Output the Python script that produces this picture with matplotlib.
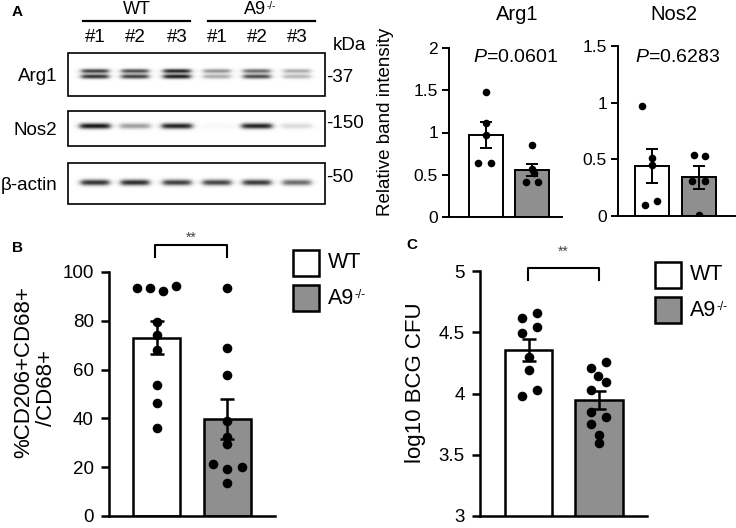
import numpy as np
import matplotlib
matplotlib.use("Agg")
import matplotlib.pyplot as plt
from matplotlib.patches import Rectangle

plt.rcParams['font.family'] = ['Liberation Sans', 'DejaVu Sans']
plt.rcParams['mathtext.fontset'] = 'custom'
plt.rcParams['mathtext.rm'] = 'Liberation Sans'
plt.rcParams['mathtext.it'] = 'Liberation Sans:italic'
plt.rcParams['mathtext.bf'] = 'Liberation Sans:bold'

# ---------------- data ----------------
groups = ["WT", "A9"]
group_sup = ["", "-/-"]
lanes = ["#1", "#2", "#3", "#1", "#2", "#3"]
blot_rows = ["Arg1", "Nos2", "β-actin"]
kda_marks = ["-37", "-150", "-50"]

# band darkness (0-1) per lane
arg1_upper = [0.80, 0.75, 0.92, 0.45, 0.62, 0.35]
arg1_lower = [0.85, 0.80, 0.95, 0.35, 0.75, 0.30]
nos2_band = [0.97, 0.40, 0.92, 0.03, 0.92, 0.15]
actin_band = [0.85, 0.88, 0.80, 0.78, 0.82, 0.62]

# relative band intensity
arg1_wt = [1.48, 1.11, 0.97, 0.64, 0.64]
arg1_ko = [0.85, 0.57, 0.52, 0.42, 0.42]
arg1_mean = [0.97, 0.56]
arg1_sem = [0.15, 0.07]
arg1_p = "$P$=0.0601"

nos2_wt = [0.97, 0.51, 0.45, 0.10, 0.13]
nos2_ko = [0.54, 0.53, 0.31, 0.31, 0.01]
nos2_mean = [0.44, 0.34]
nos2_sem = [0.15, 0.10]
nos2_p = "$P$=0.6283"

# panel B: %CD206+CD68+/CD68+
cd206_wt = [93.3, 93.3, 92.3, 94.3, 79.6, 74.2, 68.0, 53.7, 46.2, 36.2]
cd206_ko = [93.3, 69.0, 57.8, 39.1, 32.5, 29.5, 21.2, 19.1, 20.2, 13.4]
cd206_mean = [73.0, 39.8]
cd206_sem = [6.8, 8.2]

# panel C: log10 BCG CFU
cfu_wt = [4.62, 4.66, 4.54, 4.49, 4.30, 4.19, 4.03, 3.98]
cfu_ko = [4.26, 4.21, 4.14, 4.09, 4.03, 3.85, 3.81, 3.75, 3.66, 3.60]
cfu_mean = [4.355, 3.945]
cfu_sem = [0.09, 0.072]

# horizontal jitter of dots (layout)
arg1_wt_dx = [0.0, 0.0, 0.0, -0.17, 0.10]
arg1_ko_dx = [0.0, 0.0, 0.05, -0.12, 0.14]
nos2_wt_dx = [-0.2, 0.0, 0.0, -0.15, 0.10]
nos2_ko_dx = [-0.11, 0.13, -0.15, 0.13, 0.0]
cd206_wt_dx = [-0.277, -0.099, 0.089, 0.277, 0, 0, 0, 0, 0, 0]
cd206_ko_dx = [0, 0, 0, 0, 0, 0, -0.2, 0, 0.21, 0]
cfu_wt_dx = [-0.10, 0.113, 0.113, -0.10, 0, 0, 0.113, -0.10]
cfu_ko_dx = [0.10, -0.113, -0.02, 0.10, -0.113, -0.113, 0.10, -0.113, 0, 0]

BAR_COLORS = ["white", "#8f8f8f"]
W, H = 736, 528
fig = plt.figure(figsize=(W / 100, H / 100), dpi=100)


def ax_px(x0, y0, x1, y1):
    return fig.add_axes([x0 / W, 1 - y1 / H, (x1 - x0) / W, (y1 - y0) / H])


def bar_panel(ax, means, sems, pts, dxs, width, xlim, ylim, yticks, yticklabels,
              lw, fs, ms, capsize, ticklen, pad):
    x = np.arange(len(means))
    ax.bar(x, means, width=width, color=BAR_COLORS, edgecolor="black",
           linewidth=lw, zorder=2)
    ax.errorbar(x, means, yerr=sems, fmt="none", ecolor="black",
                elinewidth=lw, capsize=capsize, capthick=lw, zorder=3)
    for i, (vals, dx) in enumerate(zip(pts, dxs)):
        ax.scatter(i + np.array(dx), vals, s=ms, color="black", zorder=4,
                   linewidths=0)
    ax.set_xlim(*xlim)
    ax.set_ylim(*ylim)
    ax.set_yticks(yticks)
    ax.set_yticklabels(yticklabels, fontsize=fs)
    ax.set_xticks([])
    for s in ["top", "right"]:
        ax.spines[s].set_visible(False)
    for s in ["left", "bottom"]:
        ax.spines[s].set_linewidth(lw)
    ax.tick_params(axis="y", length=ticklen, width=lw, pad=pad)
    ax.patch.set_alpha(0)
    for sp in ax.spines.values():
        sp.set_clip_on(False)


# overlay for text and blot
ov = fig.add_axes([0, 0, 1, 1])
ov.set_xlim(0, W)
ov.set_ylim(H, 0)
ov.axis("off")


def sup_text(x, y, base, sup, fs, ha="left"):
    t = ov.text(x, y, base, ha=ha, va="center", fontsize=fs)
    if sup:
        ov.annotate(sup, xy=(1, 1), xycoords=t, xytext=(0.5, -fs * 0.05),
                    textcoords="offset points", ha="left", va="top",
                    fontsize=fs * 0.55)
    return t


# ---------------- Panel A: blot ----------------
lane_x = [95, 135, 177, 217, 257, 297]
box_x0, box_x1 = 68, 325
boxes = [(53, 96), (111, 146), (163, 204)]
band_sets = [
    [(arg1_upper, 71.0, 1.5, 13.5), (arg1_lower, 76.5, 1.6, 13.5)],
    [(nos2_band, 126.0, 2.0, 15.0)],
    [(actin_band, 182.5, 2.1, 14.0)],
]
for (y0, y1), bands in zip(boxes, band_sets):
    xs = np.linspace(box_x0, box_x1, 4 * (box_x1 - box_x0))
    ys = np.linspace(y0, y1, 4 * (y1 - y0))
    X, Y = np.meshgrid(xs, ys)
    dark = np.zeros_like(X)
    for vals, yc, sig, hw in bands:
        for xc, d in zip(lane_x, vals):
            hx = 1.0 / (1.0 + np.exp((np.abs(X - xc) - hw) / 1.8))
            vy = np.exp(-0.5 * ((Y - yc) / sig) ** 2)
            dark += d * hx * vy
    img = 1 - 0.95 * np.clip(dark, 0, 1)
    ov.imshow(img, cmap="gray", vmin=0, vmax=1, extent=(box_x0, box_x1, y1, y0),
              aspect="auto", interpolation="bilinear", zorder=1)
    ov.add_patch(Rectangle((box_x0, y0), box_x1 - box_x0, y1 - y0, fill=False,
                           edgecolor="black", linewidth=1.2, zorder=2))

ov.set_xlim(0, W)
ov.set_ylim(H, 0)

for name, (y0, y1) in zip(blot_rows, boxes):
    ov.text(57, (y0 + y1) / 2 + 2, name, ha="right", va="center", fontsize=13.5)
for mk, yy in zip(kda_marks, [77, 123, 177]):
    ov.text(326, yy, mk, ha="left", va="center", fontsize=13.5)
ov.text(333, 46, "kDa", ha="left", va="center", fontsize=13.5)
for lx, lab in zip(lane_x, lanes):
    ov.text(lx, 38, lab, ha="center", va="center", fontsize=13.5)
ov.plot([83, 190], [21, 21], color="black", lw=1.6)
ov.plot([208, 315], [21, 21], color="black", lw=1.6)
ov.text(137, 9, groups[0], ha="center", va="center", fontsize=13)
sup_text(244, 9, groups[1], group_sup[1], 13)
ov.text(12, 12, "A", ha="left", va="center", fontsize=11, fontweight="bold")

# ---------------- Panel A: bar charts ----------------
axA1 = ax_px(449, 48, 562, 217)
bar_panel(axA1, arg1_mean, arg1_sem, [arg1_wt, arg1_ko], [arg1_wt_dx, arg1_ko_dx],
          0.75, (-0.8, 1.65), (0, 2), [0, 0.5, 1, 1.5, 2], ["0", "0.5", "1", "1.5", "2"],
          1.4, 12.5, 30, 4, 5, 3)
axA2 = ax_px(618, 46, 735, 216)
bar_panel(axA2, nos2_mean, nos2_sem, [nos2_wt, nos2_ko], [nos2_wt_dx, nos2_ko_dx],
          0.72, (-0.72, 1.77), (0, 1.5), [0, 0.5, 1, 1.5], ["0", "0.5", "1", "1.5"],
          1.4, 12.5, 30, 4, 5, 3)
ov.text(517, 14, blot_rows[0], ha="center", va="center", fontsize=14.5)
ov.text(674, 14, blot_rows[1], ha="center", va="center", fontsize=14.5)
ov.text(516, 57, arg1_p, ha="center", va="center", fontsize=14)
ov.text(678, 57, nos2_p, ha="center", va="center", fontsize=14)
ov.text(386, 122, "Relative band intensity", rotation=90, ha="center",
        va="center", fontsize=13.5)

# ---------------- Panel B ----------------
axB = ax_px(109, 272, 275, 516)
bar_panel(axB, cd206_mean, cd206_sem, [cd206_wt, cd206_ko], [cd206_wt_dx, cd206_ko_dx],
          0.66, (-0.67, 1.67), (0, 100), [0, 20, 40, 60, 80, 100],
          ["0", "20", "40", "60", "80", "100"], 1.8, 13.5, 48, 5, 6, 5)
ov.text(12, 248, "B", ha="left", va="center", fontsize=11, fontweight="bold")
ov.text(24, 372, "%CD206+CD68+", rotation=90, ha="center", va="center", fontsize=16)
ov.text(46, 388, "/CD68+", rotation=90, ha="center", va="center", fontsize=16)
ov.plot([155, 155, 227, 227], [257, 245, 245, 257], color="black", lw=1.5)
ov.text(191, 238, "**", ha="center", va="center", fontsize=10, color="#444444")

# ---------------- Panel C ----------------
axC = ax_px(480, 271, 647, 516)
bar_panel(axC, cfu_mean, cfu_sem, [cfu_wt, cfu_ko], [cfu_wt_dx, cfu_ko_dx],
          0.67, (-0.69, 1.68), (3, 5), [3, 3.5, 4, 4.5, 5],
          ["3", "3.5", "4", "4.5", "5"], 1.8, 13.5, 48, 5, 6, 5)
ov.text(406, 245, "C", ha="left", va="center", fontsize=11, fontweight="bold")
ov.text(416, 383, "log10 BCG CFU", rotation=90, ha="center", va="center", fontsize=16)
ov.plot([528, 528, 599, 599], [280, 268, 268, 280], color="black", lw=1.5)
ov.text(563, 252, "**", ha="center", va="center", fontsize=10, color="#444444")

# ---------------- legends ----------------
for (bx, by0, by1), tx in [((293, 250, 285), 328), ((655, 262, 297), 690)]:
    for j, (yy, col) in enumerate(zip([by0, by1], BAR_COLORS)):
        ov.add_patch(Rectangle((bx, yy), 26, 26, facecolor=col, edgecolor="black",
                               linewidth=1.8, zorder=3))
        sup_text(tx, yy + 13, groups[j], group_sup[j], 15.5)

fig.savefig("out.png", dpi=100)
